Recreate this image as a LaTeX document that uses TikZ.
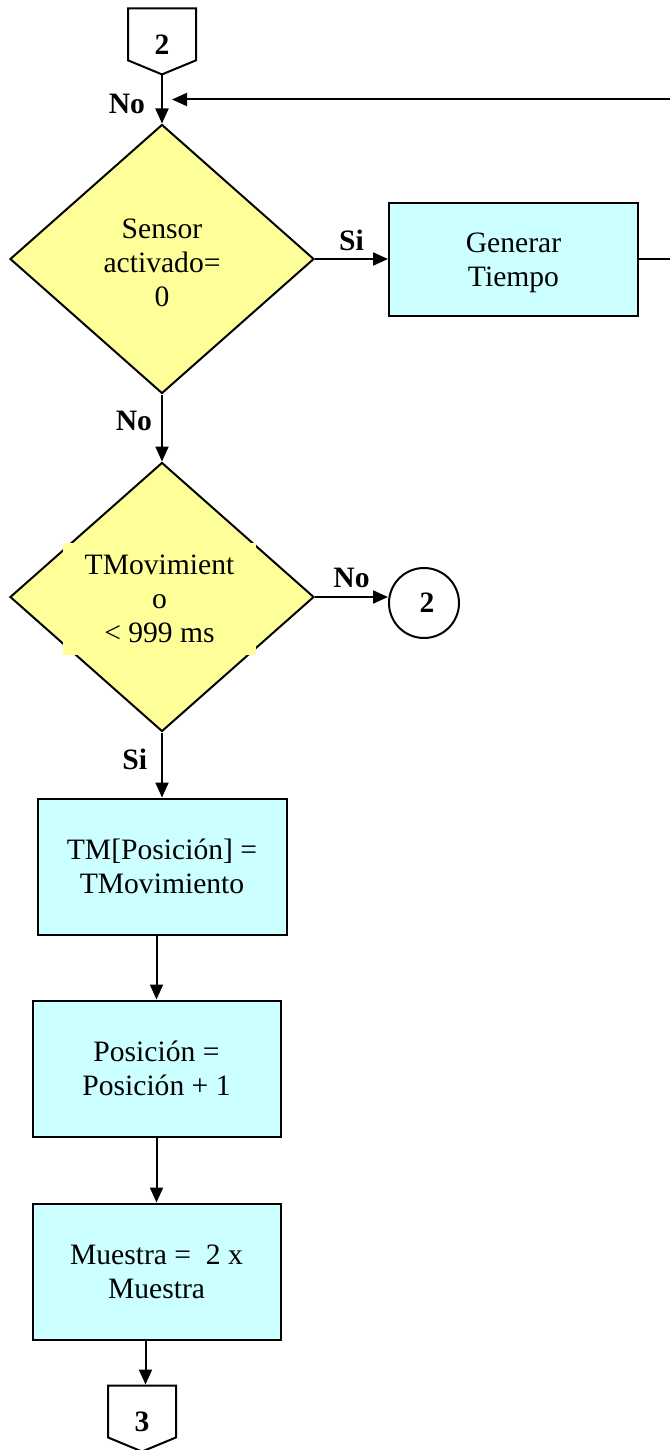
\documentclass[tikz,border=0pt]{standalone}
\usepackage{fontspec}
\setmainfont{Liberation Serif}
\usetikzlibrary{positioning,arrows.meta,shapes.geometric,shapes.symbols}
\definecolor{yelfill}{RGB}{255,255,153}
\definecolor{cyanfill}{RGB}{204,255,255}
\newcommand{\flowfont}{\fontsize{14.8pt}{17pt}\selectfont}
\tikzstyle{decision}=[diamond, draw, fill=yelfill, line width=1pt, minimum width=152pt, minimum height=134.5pt, inner sep=0pt, align=center, font=\flowfont]
\tikzstyle{processbox}=[rectangle, draw, fill=cyanfill, line width=1pt, minimum width=124.5pt, minimum height=68pt, align=center, font=\flowfont]
\tikzstyle{offpage}=[signal, signal to=south, signal pointer angle=135, draw, fill=white, line width=1pt, minimum width=34pt, minimum height=27.5pt, inner sep=0pt, text height=20.4pt, text depth=0pt, font=\flowfont\bfseries]
\tikzstyle{connector}=[circle, draw, line width=1pt, minimum size=35pt, inner sep=0pt, font=\flowfont\bfseries]
\tikzstyle{txtbox}=[rectangle, fill=yelfill, minimum width=96.5pt, minimum height=56pt, inner sep=0pt, align=center, font=\flowfont]
\tikzstyle{lbl}=[inner sep=0pt, font=\flowfont\bfseries]
\tikzstyle{arr}=[-{Triangle[length=7.5pt,width=6.5pt]}, line width=1pt]

\begin{document}
\begin{tikzpicture}
\useasboundingbox (0,0) rectangle (334.5pt,-725pt);
%Nodes
\node[decision]      (d1)     at (81pt,-129.5pt)          {\\[-3pt]Sensor\\activado=\\0};
\node[offpage]       (p2)     [above=24pt of d1]          {2};
\node[processbox, minimum height=56.5pt] (gen) [right=36.5pt of d1] {\rule{0pt}{14pt}Generar\\Tiempo};
\node[decision]      (d2)     [below=33.5pt of d1]        {};
\node[txtbox]        (d2txt)  at ([xshift=-1.25pt,yshift=-0.75pt]d2.center) {TMovimient\\o\\< 999 ms};
\node[connector]     (c2)     [right=36.5pt of d2, yshift=-3pt] {\hspace*{3pt}2};
\node[processbox]    (tm)     [below=32.5pt of d2]        {TM[Posición] =\\TMovimiento};
\node[processbox, minimum width=124pt] (pos) [below=32pt of tm, xshift=-2.75pt] {Posición =\\Posición + 1};
\node[processbox, minimum width=124pt] (mue) [below=32.5pt of pos] {Muestra = \ 2 x\\Muestra};
\node[offpage]       (p3)     [below=22pt of mue, xshift=-7.25pt] {3};
\coordinate          (back)   at ([xshift=5pt,yshift=12pt]d1.north);
%Lines
\draw[arr] (p2.south) -- node[lbl, left=8pt, pos=0.6] {No} (d1.north);
\draw[arr] (d1.east) -- node[lbl, above=3.5pt] {Si} (gen.west);
\draw[arr] (gen.east) -- ++(30pt,0) |- (back);
\draw[arr] (d1.south) -- node[lbl, left=4.5pt, pos=0.4] {No} (d2.north);
\draw[arr] (d2.east) -- node[lbl, above=4pt] {No} (d2.east -| c2.west);
\draw[arr] (d2.south) -- node[lbl, left=7pt, pos=0.41] {Si} (tm.north);
\draw[arr] (tm.south -| pos.north) -- (pos.north);
\draw[arr] (pos.south) -- (mue.north);
\draw[arr] ([xshift=1.75pt]p3.north |- mue.south) -- ([xshift=1.75pt]p3.north);
\end{tikzpicture}
\end{document}
